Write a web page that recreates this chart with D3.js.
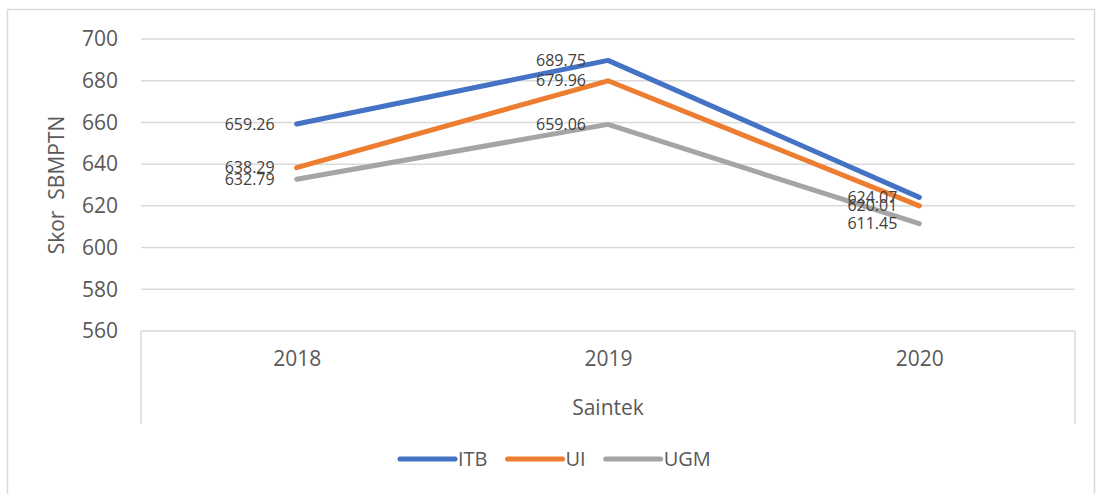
<!DOCTYPE html>
<html>
<head>
<meta charset="utf-8">
<style>
    body {
        margin: 0;
        background: #fff;
        font-family: "Open Sans", sans-serif;
    }
    svg {
        display: block;
    }
    .grid line {
        stroke: #d9d9d9;
        stroke-width: 1.5;
    }
    .tick-label {
        fill: #595959;
        font-size: 21px;
    }
    .data-label {
        fill: #404040;
        font-size: 16px;
        text-anchor: end;
    }
    .series {
        fill: none;
        stroke-width: 5;
        stroke-linecap: round;
        stroke-linejoin: round;
    }
</style>
</head>
<body>
<script src="https://cdn.jsdelivr.net/npm/d3@7"></script>
<script>

    var years = ["2018", "2019", "2020"];
    var seriesNames = ["ITB", "UI", "UGM"];
    var itbValues = [659.26, 689.75, 624.07];
    var uiValues = [638.29, 679.96, 620.01];
    var ugmValues = [632.79, 659.06, 611.45];
    var yTicks = [560, 580, 600, 620, 640, 660, 680, 700];
    var colors = ["#4472c4", "#ed7d31", "#a5a5a5"];

    var series = [
        {name: seriesNames[0], values: itbValues, color: colors[0]},
        {name: seriesNames[1], values: uiValues, color: colors[1]},
        {name: seriesNames[2], values: ugmValues, color: colors[2]}
    ];

    var width = 1096,
        height = 494,
        plotLeft = 141,
        plotRight = 1075,
        plotTop = 39,
        plotBottom = 331,
        catBoxBottom = 424;

    var x = d3.scalePoint()
        .domain(years)
        .range([plotLeft, plotRight])
        .padding(0.5);

    var y = d3.scaleLinear()
        .domain([560, 700])
        .range([plotBottom, plotTop]);

    var svg = d3.select("body").append("svg")
        .attr("width", width)
        .attr("height", height);

    // outer chart border
    svg.append("rect")
        .attr("x", 7.5)
        .attr("y", 9.5)
        .attr("width", 1087)
        .attr("height", 500)
        .attr("fill", "none")
        .attr("stroke", "#d9d9d9")
        .attr("stroke-width", 1.5);

    // gridlines
    svg.append("g")
        .attr("class", "grid")
        .selectAll("line")
        .data(yTicks)
      .enter().append("line")
        .attr("x1", plotLeft)
        .attr("x2", plotRight)
        .attr("y1", function(d) {return y(d)})
        .attr("y2", function(d) {return y(d)});

    // y tick labels via axis
    var yAxis = svg.append("g")
        .attr("transform", "translate(" + plotLeft + ",0)")
        .call(d3.axisLeft(y).tickValues(yTicks).tickSize(0).tickPadding(23));
    yAxis.select(".domain").remove();
    yAxis.selectAll("text")
        .attr("class", "tick-label")
        .attr("fill", "#595959")
        .style("font-family", "'Open Sans', sans-serif");

    // category box
    var catBox = svg.append("g").attr("class", "grid");
    catBox.append("line")
        .attr("x1", plotLeft).attr("x2", plotLeft)
        .attr("y1", plotBottom).attr("y2", catBoxBottom);
    catBox.append("line")
        .attr("x1", plotRight).attr("x2", plotRight)
        .attr("y1", plotBottom).attr("y2", catBoxBottom);

    // x labels
    var xAxis = svg.append("g")
        .attr("transform", "translate(0," + plotBottom + ")")
        .call(d3.axisBottom(x).tickSize(0).tickPadding(20));
    xAxis.select(".domain").remove();
    xAxis.selectAll("text")
        .attr("class", "tick-label")
        .attr("fill", "#595959")
        .style("font-family", "'Open Sans', sans-serif");

    svg.append("text")
        .attr("class", "tick-label")
        .attr("x", (plotLeft + plotRight) / 2)
        .attr("y", 408)
        .attr("dy", "0.35em")
        .attr("text-anchor", "middle")
        .text("Saintek");

    svg.append("text")
        .attr("class", "tick-label")
        .attr("transform", "translate(57,185) rotate(-90)")
        .attr("dy", "0.35em")
        .attr("text-anchor", "middle")
        .attr("xml:space", "preserve")
        .style("white-space", "pre")
        .text("Skor  SBMPTN");

    // lines
    var line = d3.line()
        .x(function(d, i) {return x(years[i])})
        .y(function(d) {return y(d)});

    svg.append("g").selectAll("path")
        .data(series)
      .enter().append("path")
        .attr("class", "series")
        .attr("stroke", function(d) {return d.color})
        .attr("d", function(d) {return line(d.values)});

    // data labels
    var labelGroup = svg.append("g");
    series.forEach(function(s) {
        labelGroup.selectAll(null)
            .data(s.values)
          .enter().append("text")
            .attr("class", "data-label")
            .attr("x", function(d, i) {return x(years[i]) - 22})
            .attr("y", function(d) {return y(d)})
            .attr("dy", "0.35em")
            .text(function(d) {return d.toFixed(2)});
    });

    // legend
    var legend = svg.append("g")
        .attr("transform", "translate(400,459)");
    var lx = 0;
    series.forEach(function(s) {
        legend.append("line")
            .attr("x1", lx).attr("x2", lx + 55)
            .attr("y1", 0).attr("y2", 0)
            .attr("stroke", s.color)
            .attr("stroke-width", 5)
            .attr("stroke-linecap", "round");
        var t = legend.append("text")
            .attr("class", "tick-label")
            .attr("x", lx + 58)
            .attr("dy", "0.35em")
            .style("font-size", "20px")
            .text(s.name);
        lx += 58 + t.node().getComputedTextLength() + 20;
    });
</script>
</body>
</html>
